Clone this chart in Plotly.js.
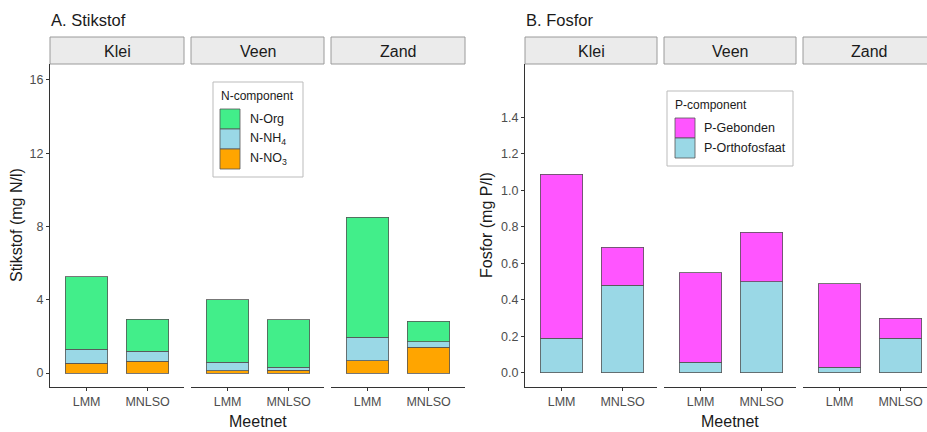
<!DOCTYPE html>
<html><head><meta charset="utf-8">
<script src="https://cdn.plot.ly/plotly-3.0.1.min.js"></script>
<style>html,body{margin:0;padding:0;background:#fff}#chart{width:927px;height:432px}</style>
</head><body><div id="chart"></div>
<script>
// ---- data ----
const grondsoort = ['Klei', 'Veen', 'Zand'];
const meetnet = ['LMM', 'MNLSO'];
// values per panel: [LMM, MNLSO]
const nNO3 = [[0.55, 0.65], [0.12, 0.15], [0.68, 1.42]];
const nNH4 = [[0.75, 0.55], [0.48, 0.17], [1.27, 0.30]];
const nOrg = [[3.95, 1.75], [3.40, 2.58], [6.55, 1.10]];
const pOrtho = [[0.19, 0.48], [0.06, 0.50], [0.03, 0.19]];
const pGebonden = [[0.90, 0.21], [0.49, 0.27], [0.46, 0.11]];
const nNames = ['N-Org', 'N-NH<sub>4</sub>', 'N-NO<sub>3</sub>'];
const pNames = ['P-Gebonden', 'P-Orthofosfaat'];
const nTicks = [0, 4, 8, 12, 16];
const pTicks = [0, 0.2, 0.4, 0.6, 0.8, 1.0, 1.2, 1.4];

// ---- styles ----
const W = 927, H = 432;
const colOrg = '#42EE8A', colNH4 = '#9AD8E6', colNO3 = '#FFA500';
const colGeb = '#FF55FF', colOrtho = '#9AD8E6';
const FONT = 'Liberation Sans, Arial, sans-serif';
const px = x => x / W, py = y => 1 - y / H;

const panelsX = [[50, 184], [191, 324], [331, 465], [525, 657], [664, 796], [803, 927]];
const plotTop = 64, plotBot = 387;
const unit = 61; // px per category

const traces = [];
function addBar(vals, name, color, axIdx, yax) {
  traces.push({
    type: 'bar', x: meetnet, y: vals, name: name,
    xaxis: 'x' + (axIdx === 1 ? '' : axIdx), yaxis: yax,
    marker: { color: color, line: { color: '#555555', width: 0.8 } },
    width: 0.7, showlegend: false
  });
}
for (let i = 0; i < 3; i++) {
  addBar(nNO3[i], nNames[2], colNO3, i + 1, 'y');
  addBar(nNH4[i], nNames[1], colNH4, i + 1, 'y');
  addBar(nOrg[i], nNames[0], colOrg, i + 1, 'y');
  addBar(pOrtho[i], pNames[1], colOrtho, i + 4, 'y2');
  addBar(pGebonden[i], pNames[0], colGeb, i + 4, 'y2');
}

const layout = {
  width: W, height: H, margin: { l: 0, r: 0, t: 0, b: 0 },
  paper_bgcolor: '#fff', plot_bgcolor: '#fff',
  barmode: 'stack',
  font: { family: FONT, color: '#1a1a1a' },
  showlegend: false,
  shapes: [], annotations: []
};
const ydom = [py(plotBot), py(plotTop)];
const tickFont = { family: FONT, size: 12.5, color: '#4d4d4d' };
const axisCommon = {
  showline: true, linecolor: '#333', linewidth: 1, ticks: 'outside', ticklen: 3, tickcolor: '#333',
  showgrid: false, zeroline: false, tickfont: tickFont
};
layout.yaxis = Object.assign({
  domain: ydom, anchor: 'x', range: [-0.76, 16.87], tickvals: nTicks, ticktext: nTicks.map(String)
}, axisCommon);
layout.yaxis2 = Object.assign({
  domain: ydom, anchor: 'x4', range: [-0.077, 1.693], tickvals: pTicks, ticktext: pTicks.map(v => v.toFixed(1))
}, axisCommon);
panelsX.forEach((p, k) => {
  const key = 'xaxis' + (k === 0 ? '' : k + 1);
  const widthPx = p[1] - p[0];
  layout[key] = Object.assign({
    domain: [px(p[0]), px(p[1])], anchor: k < 3 ? 'y' : 'y2', type: 'category',
    range: [-0.6, -0.6 + widthPx / unit]
  }, axisCommon);
  const right = k === 5 ? 935 : p[1];
  layout.shapes.push({ type: 'rect', xref: 'paper', yref: 'paper', x0: px(p[0]), x1: px(right),
    y0: py(64), y1: py(37), fillcolor: '#EBEBEB', line: { color: '#9a9a9a', width: 1 } });
  layout.annotations.push({ xref: 'paper', yref: 'paper', x: px((p[0] + right) / 2), y: py(51),
    text: grondsoort[k % 3], showarrow: false, xanchor: 'center', yanchor: 'middle',
    font: { family: FONT, size: 16, color: '#1a1a1a' } });
});

function ann(x, y, text, size, opts) {
  layout.annotations.push(Object.assign({ xref: 'paper', yref: 'paper', x: px(x), y: py(y), text: text,
    showarrow: false, xanchor: 'center', yanchor: 'middle', font: { family: FONT, size: size, color: '#1a1a1a' } }, opts || {}));
}
// panel titles
ann(49, 20, 'A. Stikstof', 16.5, { xanchor: 'left' });
ann(524, 20, 'B. Fosfor', 16.5, { xanchor: 'left' });
// axis titles
ann(16, 225, 'Stikstof (mg N/l)', 16, { textangle: -90 });
ann(486, 225, 'Fosfor (mg P/l)', 16, { textangle: -90 });
ann(257.5, 421, 'Meetnet', 16);
ann(730, 421, 'Meetnet', 16);

// custom legends
function legend(box, title, names, colors, swX, swTop, swH, labX) {
  layout.shapes.push({ type: 'rect', xref: 'paper', yref: 'paper', x0: px(box[0]), x1: px(box[1]), y0: py(box[3]), y1: py(box[2]),
    fillcolor: '#fff', line: { color: '#bbbbbb', width: 1 } });
  ann(box[0] + 6, box[2] + 14, title, 12, { xanchor: 'left' });
  names.forEach((n, i) => {
    const t = swTop + i * swH;
    layout.shapes.push({ type: 'rect', xref: 'paper', yref: 'paper', x0: px(swX), x1: px(swX + swH), y0: py(t + swH), y1: py(t),
      fillcolor: colors[i], line: { color: '#555', width: 0.8 } });
    ann(labX, t + swH / 2, n, 12.5, { xanchor: 'left' });
  });
}
legend([213, 303, 82, 177], 'N-component', nNames, [colOrg, colNH4, colNO3], 220, 109, 20, 248);
legend([667, 793, 91, 166], 'P-component', pNames, [colGeb, colOrtho], 675, 118, 20, 702);

Plotly.newPlot('chart', traces, layout, { displayModeBar: false, staticPlot: true });
</script>
</body></html>
